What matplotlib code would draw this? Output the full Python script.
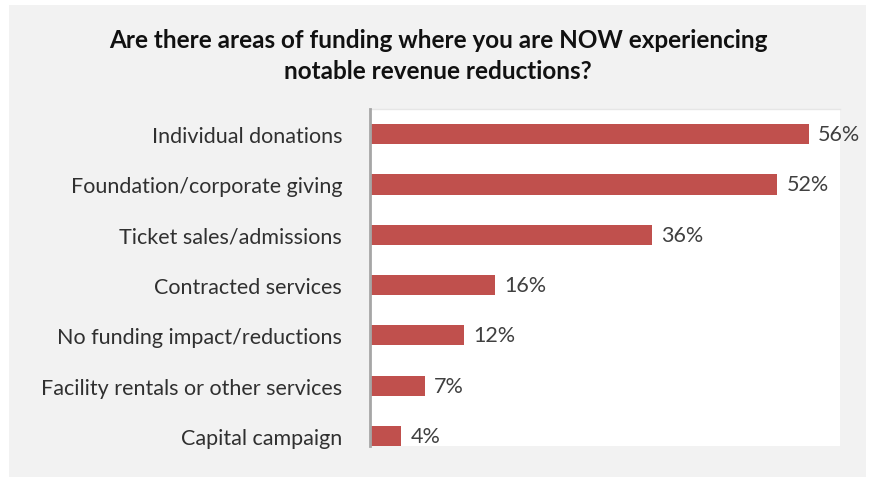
import matplotlib
matplotlib.use("Agg")
from matplotlib import pyplot as plt
from matplotlib.patches import Rectangle

categories = [
    "Individual donations",
    "Foundation/corporate giving",
    "Ticket sales/admissions",
    "Contracted services",
    "No funding impact/reductions",
    "Facility rentals or other services",
    "Capital campaign",
]
values = [56, 52, 36, 16, 12, 7, 4]
labels = ["56%", "52%", "36%", "16%", "12%", "7%", "4%"]

W, H = 874, 481
fig = plt.figure(figsize=(W / 100, H / 100), dpi=100)
fig.patch.set_facecolor("white")

# grey panel behind the chart
fig.patches.append(Rectangle((9 / W, 3 / H), 857 / W, 472 / H,
                             transform=fig.transFigure, facecolor="#f2f2f2",
                             edgecolor="none", zorder=-5))

ax = fig.add_axes([370 / W, 1 - 447 / H, 470 / W, 337 / H])
ax.set_facecolor("white")

pos = list(range(len(categories)))
ax.barh(pos, values, height=0.4, color="#c0504d")
ax.set_xlim(0, 60)
ax.set_ylim(6.2, -0.5)

for p, v, t in zip(pos, values, labels):
    ax.text(v + 1.2, p, t, va="center", ha="left", fontsize=15.5,
            family="Lato", color="#404040")

ax.set_yticks(pos)
ax.set_yticklabels(categories, fontsize=15.5, family="Lato", color="#303030")
ax.tick_params(axis="y", length=0, pad=20)
ax.set_xticks([])

for s in ["top", "right", "bottom"]:
    ax.spines[s].set_visible(False)
ax.spines["left"].set_color("#a6a6a6")
ax.spines["left"].set_linewidth(2)
ax.plot([0, 1], [1, 1], transform=ax.transAxes, color="#e6e6e6", lw=1,
        clip_on=False)

fig.text(438 / W, 1 - 56 / H,
         "Are there areas of funding where you are NOW experiencing\nnotable revenue reductions?",
         ha="center", va="center", fontsize=17.5, fontweight="bold",
         family="Lato", color="#111111", linespacing=1.4)

fig.savefig("out.png", dpi=100)
